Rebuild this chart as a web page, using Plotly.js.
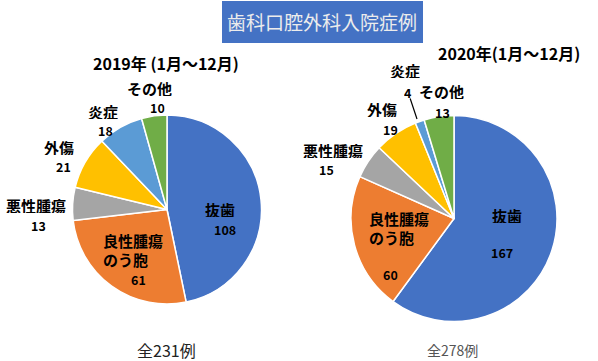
<!DOCTYPE html>
<html><head><meta charset="utf-8">
<script src="https://cdn.plot.ly/plotly-3.0.1.min.js"></script>
<style>html,body{margin:0;padding:0;background:#fff}#chart{width:598px;height:361px}</style>
</head><body><div id="chart"></div>
<script>
const categories = ['抜歯','良性腫瘍のう胞','悪性腫瘍','外傷','炎症','その他'];
const displayNames = ['抜歯','良性腫瘍<br>のう胞','悪性腫瘍','外傷','炎症','その他'];
const values2019 = [108, 61, 13, 21, 18, 10];
const values2020 = [167, 60, 15, 19, 4, 13];
const colors = ['#4472C4','#ED7D31','#A5A5A5','#FFC000','#5B9BD5','#70AD47'];
const title = '歯科口腔外科入院症例';
const sub2019 = '2019年 (1月～12月)';
const sub2020 = '2020年(1月～12月)';
const total2019 = '全231例';
const total2020 = '全278例';

// label placement (pixels from top-left), layout only
const W = 598, H = 361;
const namePos2019 = [[220,209],[102,250],[36,205],[59,147],[103,112],[149,88]];
const valuePos2019 = [[225,229],[138,279],[38,225],[63,166],[105,130],[157,107]];
const namePos2020 = [[507,216],[368,228],[333,150],[382,110],[405,70],[442,91]];
const valuePos2020 = [[502,252],[390,274],[326,169],[390,129],[408,92],[443,112]];
const leftAligned = [false,true,false,false,false,false];

const FONT = '"Noto Sans CJK JP", "Noto Sans", sans-serif';
function pie(values, domain) {
  return {
    type: 'pie', labels: categories, values: values,
    sort: false, direction: 'clockwise', rotation: 0,
    marker: {colors: colors, line: {color: '#ffffff', width: 1.5}},
    textinfo: 'none',
    hoverinfo: 'label+value', showlegend: false,
    domain: domain
  };
}
const data = [
  pie(values2019, {x: [72/W, 262/W], y: [57/H, 246/H]}),
  pie(values2020, {x: [351/W, 557/W], y: [39/H, 246/H]})
];
function ann(text, px, py, size, opts) {
  return Object.assign({text: text, xref:'paper', yref:'paper', x: px/W, y: 1-py/H,
    showarrow:false, xanchor:'center', yanchor:'middle', borderpad:0,
    font:{family:FONT, size:size, color:'#000', weight:'bold'}}, opts||{});
}
const annotations = [
  ann(title, 322, 22, 19, {font:{family:FONT, size:19, color:'#ececec'}}),
  ann(sub2019, 166, 63, 16),
  ann(sub2020, 509, 53, 16),
  ann(total2019, 166, 350, 16, {font:{family:FONT, size:16, color:'#222'}}),
  ann(total2020, 452, 350, 14, {font:{family:FONT, size:14, color:'#555'}})
];
[[values2019, namePos2019, valuePos2019], [values2020, namePos2020, valuePos2020]].forEach(([vals, np, vp], k) => {
  categories.forEach((c, i) => {
    const lines = displayNames[i].split('<br>').length;
    const o = Object.assign({height: lines === 1 ? 15 : 36}, leftAligned[i] ? {xanchor:'left', align:'left'} : {});
    annotations.push(ann(displayNames[i], np[i][0], np[i][1], 15, o));
    let vo = {height: 12};
    if (k === 1 && i === 4) {
      // leader line for the small 炎症 slice
      vo = {height: 12, showarrow:true, arrowhead:0, arrowwidth:1.2, arrowcolor:'#000', standoff:0,
            x: 417/W, y: 1-119/H, ax: vp[i][0]-417, ay: vp[i][1]-119, axref:'pixel', ayref:'pixel'};
    }
    annotations.push(ann(String(vals[i]), vp[i][0], vp[i][1], 12.5, vo));
  });
});
const layout = {
  width: W, height: H, margin: {l:0, r:0, t:0, b:0},
  paper_bgcolor: '#fff', font: {family: FONT},
  shapes: [{type:'rect', xref:'paper', yref:'paper', x0:222/W, x1:423/W, y0:1-43/H, y1:1-1/H,
            fillcolor:'#4472C4', line:{width:0}}],
  annotations: annotations
};
Plotly.newPlot('chart', data, layout, {displayModeBar:false, staticPlot:true});
</script></body></html>
